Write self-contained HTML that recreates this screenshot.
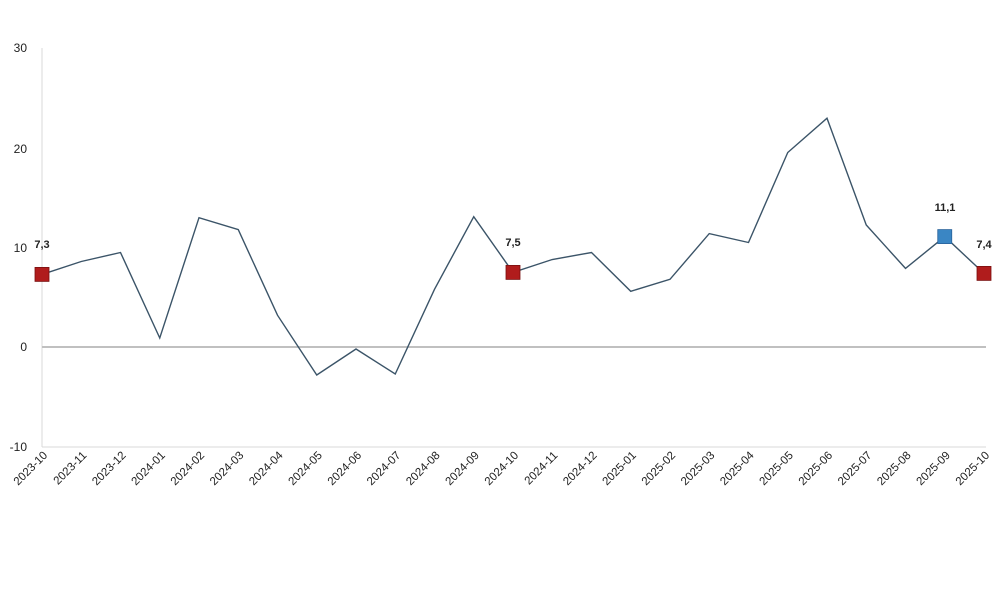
<!DOCTYPE html>
<html><head><meta charset="utf-8"><style>body{margin:0;background:#fff}svg{display:block}</style></head><body>
<svg width="1000" height="593" viewBox="0 0 1000 593" xmlns="http://www.w3.org/2000/svg" font-family="Liberation Sans, sans-serif">
<line x1="42" y1="48" x2="42" y2="447" stroke="#d9d9d9" stroke-width="1"/>
<line x1="42" y1="447" x2="986" y2="447" stroke="#d9d9d9" stroke-width="1"/>
<line x1="42" y1="347" x2="986" y2="347" stroke="#c0c0c0" stroke-width="2"/>
<g font-size="12" fill="#222" text-anchor="end">
<text x="27" y="52">30</text><text x="27" y="153">20</text><text x="27" y="252">10</text><text x="27" y="351">0</text><text x="27" y="451">-10</text>
</g>
<polyline fill="none" stroke="#3b5468" stroke-width="1.4" points="42,274.4 81.25,261.5 120.5,252.5 159.75,338 199,217.7 238.25,229.6 277.5,315.2 316.75,375 356,349 395.25,374 434.5,289.3 473.75,216.7 513,272.4 552.25,259.5 591.5,252.5 630.75,291.3 670,279.3 709.25,233.6 748.5,242.5 787.75,152.5 827,118.2 866.25,225 905.5,268.4 944.75,236.6 984,273.4"/>
<rect x="35" y="267.4" width="14" height="14" fill="#b01c1c" stroke="#7a1010" stroke-width="0.8"/>
<rect x="506" y="265.4" width="14" height="14" fill="#b01c1c" stroke="#7a1010" stroke-width="0.8"/>
<rect x="937.75" y="229.6" width="14" height="14" fill="#3a86c4" stroke="#28629a" stroke-width="0.8"/>
<rect x="977" y="266.4" width="14" height="14" fill="#b01c1c" stroke="#7a1010" stroke-width="0.8"/>
<g font-size="11" font-weight="bold" fill="#222" text-anchor="middle">
<text x="42" y="248">7,3</text><text x="513" y="246">7,5</text><text x="945" y="211">11,1</text><text x="984" y="248">7,4</text>
</g>
<g font-size="11.5" fill="#222" text-anchor="end">
<text transform="translate(48,456) rotate(-45)">2023-10</text>
<text transform="translate(87.25,456) rotate(-45)">2023-11</text>
<text transform="translate(126.5,456) rotate(-45)">2023-12</text>
<text transform="translate(165.75,456) rotate(-45)">2024-01</text>
<text transform="translate(205,456) rotate(-45)">2024-02</text>
<text transform="translate(244.25,456) rotate(-45)">2024-03</text>
<text transform="translate(283.5,456) rotate(-45)">2024-04</text>
<text transform="translate(322.75,456) rotate(-45)">2024-05</text>
<text transform="translate(362,456) rotate(-45)">2024-06</text>
<text transform="translate(401.25,456) rotate(-45)">2024-07</text>
<text transform="translate(440.5,456) rotate(-45)">2024-08</text>
<text transform="translate(479.75,456) rotate(-45)">2024-09</text>
<text transform="translate(519,456) rotate(-45)">2024-10</text>
<text transform="translate(558.25,456) rotate(-45)">2024-11</text>
<text transform="translate(597.5,456) rotate(-45)">2024-12</text>
<text transform="translate(636.75,456) rotate(-45)">2025-01</text>
<text transform="translate(676,456) rotate(-45)">2025-02</text>
<text transform="translate(715.25,456) rotate(-45)">2025-03</text>
<text transform="translate(754.5,456) rotate(-45)">2025-04</text>
<text transform="translate(793.75,456) rotate(-45)">2025-05</text>
<text transform="translate(833,456) rotate(-45)">2025-06</text>
<text transform="translate(872.25,456) rotate(-45)">2025-07</text>
<text transform="translate(911.5,456) rotate(-45)">2025-08</text>
<text transform="translate(950.75,456) rotate(-45)">2025-09</text>
<text transform="translate(990,456) rotate(-45)">2025-10</text>
</g>
</svg>
</body></html>
